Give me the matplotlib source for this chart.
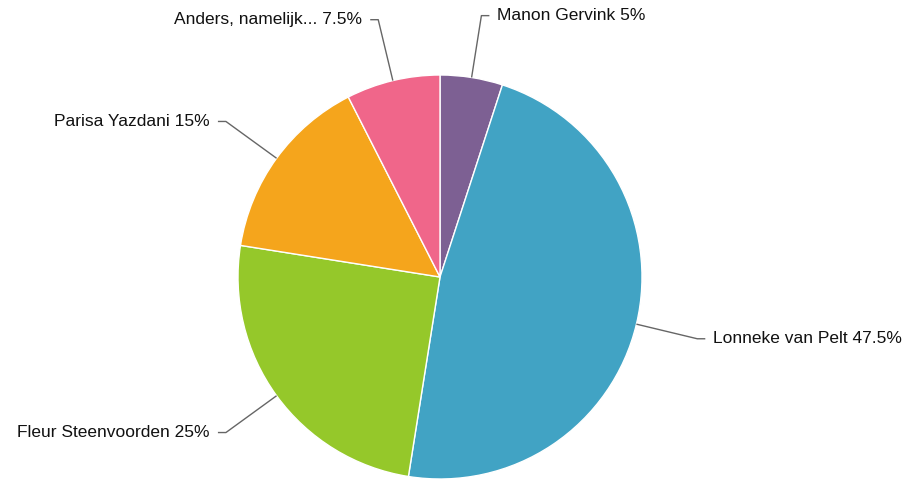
import matplotlib.pyplot as plt
import numpy as np

plt.rcParams['font.family'] = ['Liberation Sans', 'DejaVu Sans']

# data
namen = ['Manon Gervink', 'Lonneke van Pelt', 'Fleur Steenvoorden', 'Parisa Yazdani', 'Anders, namelijk...']
waarden = [5, 47.5, 25, 15, 7.5]
kleuren = ['#7d6093', '#41a3c4', '#95c82a', '#f5a51c', '#f0668a']

fig = plt.figure(figsize=(9.09, 4.79), dpi=100)
ax = fig.add_axes([0, 0, 1, 1])

cx, cy, R = 440, 479 - 277, 202
wedges, _ = ax.pie(waarden, colors=kleuren, startangle=90, counterclock=False,
                   radius=R, center=(cx, cy),
                   wedgeprops=dict(edgecolor='white', linewidth=1))
ax.set_xlim(0, 909)
ax.set_ylim(0, 479)
ax.axis('off')

totaal = sum(waarden)
for w, naam, v in zip(wedges, namen, waarden):
    hoek = np.deg2rad((w.theta1 + w.theta2) / 2)
    x0, y0 = cx + R * np.cos(hoek), cy + R * np.sin(hoek)
    x1, y1 = cx + 1.31 * R * np.cos(hoek), cy + 1.31 * R * np.sin(hoek)
    s = 1 if np.cos(hoek) >= 0 else -1
    x2 = x1 + s * 8
    ax.plot([x0, x1, x2], [y0, y1, y1], color='#666666', lw=1, solid_capstyle='butt')
    ax.text(x2 + s * 8, y1, '%s %g%%' % (naam, v / totaal * 100),
            ha='left' if s > 0 else 'right', va='center', fontsize=12.5, color='#111111')

fig.savefig('out.png', dpi=100)
